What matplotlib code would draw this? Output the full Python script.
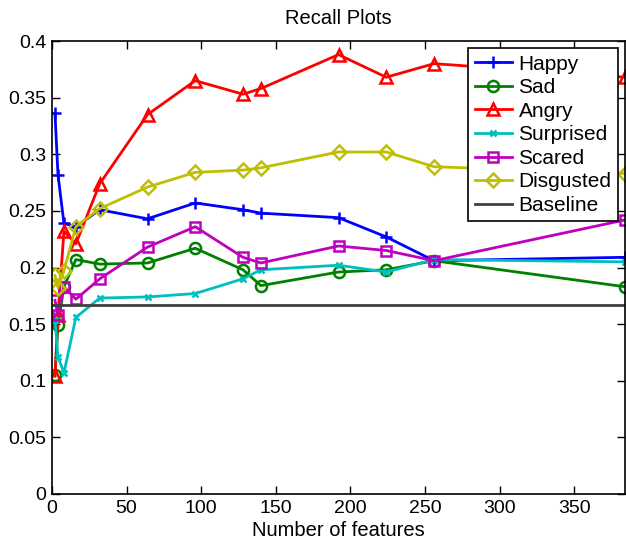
import matplotlib
matplotlib.use("Agg")
import matplotlib.pyplot as plt

features = [2, 4, 8, 16, 32, 64, 96, 128, 140, 192, 224, 256, 384]
happy     = [0.336, 0.282, 0.239, 0.236, 0.251, 0.243, 0.257, 0.251, 0.248, 0.244, 0.227, 0.206, 0.209]
sad       = [0.105, 0.149, 0.183, 0.207, 0.203, 0.204, 0.217, 0.198, 0.184, 0.196, 0.198, 0.206, 0.183]
angry     = [0.104, 0.158, 0.232, 0.221, 0.274, 0.335, 0.365, 0.353, 0.358, 0.388, 0.368, 0.380, 0.368]
surprised = [0.154, 0.121, 0.107, 0.156, 0.173, 0.174, 0.177, 0.190, 0.198, 0.202, 0.196, 0.207, 0.205]
scared    = [0.171, 0.158, 0.183, 0.172, 0.190, 0.218, 0.236, 0.209, 0.204, 0.219, 0.215, 0.206, 0.242]
disgusted = [0.193, 0.182, 0.197, 0.236, 0.252, 0.271, 0.284, 0.286, 0.288, 0.302, 0.302, 0.289, 0.283]
baseline = 1.0 / 6.0

labels = ["Happy", "Sad", "Angry", "Surprised", "Scared", "Disgusted", "Baseline"]
xticks = [0, 50, 100, 150, 200, 250, 300, 350]
yticks = [0, 0.05, 0.1, 0.15, 0.2, 0.25, 0.3, 0.35, 0.4]
ytick_labels = ["0", "0.05", "0.1", "0.15", "0.2", "0.25", "0.3", "0.35", "0.4"]

plt.rcParams['font.family'] = ['Liberation Sans', 'DejaVu Sans']

fig = plt.figure(figsize=(6.26, 5.43), dpi=100)
ax = fig.add_axes([52/626, 49/543, 573/626, 453/543])

series = [
    (happy, (0, 0, 1), '+', 8),
    (sad, (0, 0.5, 0), 'o', 8),
    (angry, (1, 0, 0), '^', 9),
    (surprised, (0, 0.75, 0.75), 'x', 5),
    (scared, (0.75, 0, 0.75), 's', 7),
    (disgusted, (0.75, 0.75, 0), 'D', 7),
]
for (vals, col, mk, ms), lab in zip(series, labels):
    ax.plot(features, vals, color=col, marker=mk, markersize=ms, linewidth=2,
            markerfacecolor='none', markeredgecolor=col, markeredgewidth=1.8, label=lab)
ax.plot([0, 384], [baseline, baseline], color=(0.25, 0.25, 0.25), linewidth=2, label=labels[6])

ax.set_xlim(0, 384)
ax.set_ylim(0, 0.4)
ax.set_xticks(xticks)
ax.set_yticks(yticks)
ax.set_yticklabels(ytick_labels)
ax.tick_params(direction='in', top=True, right=True, labelsize=14, length=6, width=1, pad=4)
for s in ax.spines.values():
    s.set_linewidth(1.2)
ax.set_xlabel("Number of features", fontsize=14.5, labelpad=3)
ax.set_title("Recall Plots", fontsize=14.5, pad=12)

leg = ax.legend(loc='upper right', fontsize=15, frameon=True, fancybox=False,
                edgecolor='black', framealpha=1, borderpad=0.3, labelspacing=0.22,
                handlelength=1.8, handletextpad=0.3, borderaxespad=0.35)
leg.get_frame().set_linewidth(1.2)

fig.savefig("out.png", dpi=100)
